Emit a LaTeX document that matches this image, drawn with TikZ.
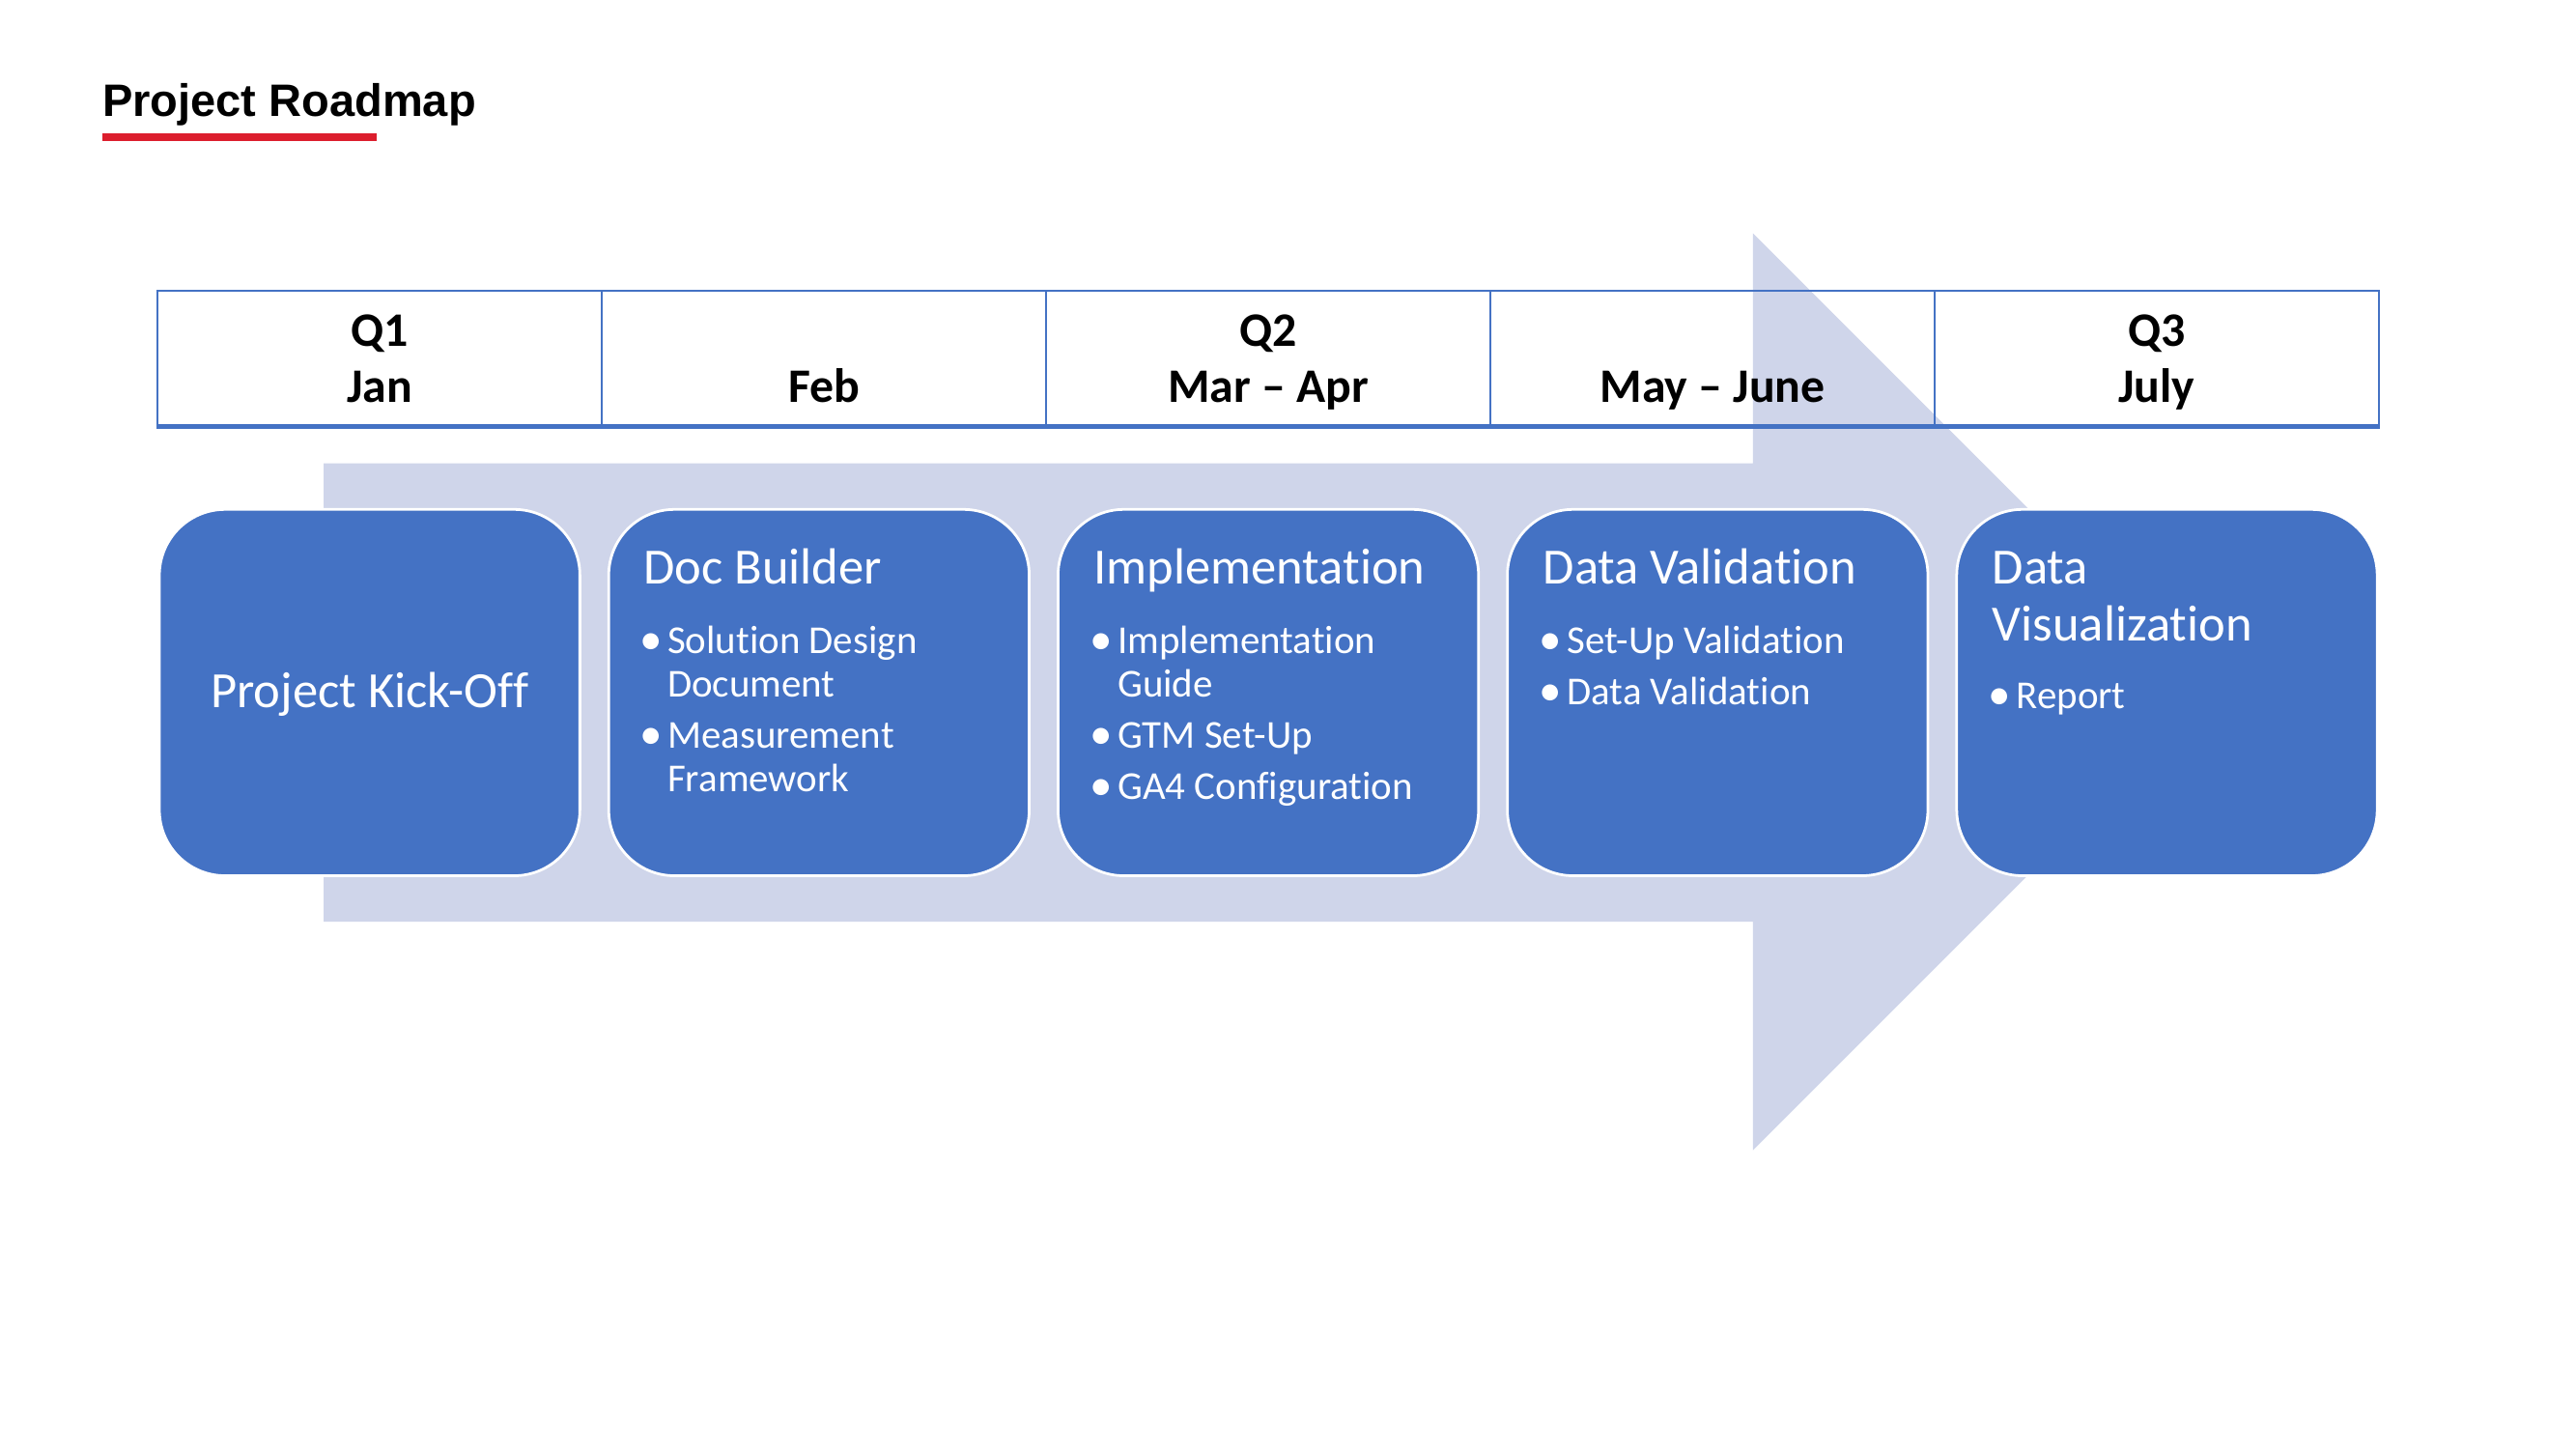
\documentclass[tikz,border=0pt]{standalone}
\usepackage{fontspec}
\setmainfont{Carlito}[Ligatures=NoCommon]
\newfontfamily\titlefont{Liberation Sans}
\definecolor{boxblue}{HTML}{4472C4}
\definecolor{arrowlav}{HTML}{CFD5EA}
\definecolor{titlered}{HTML}{DC1E2D}
\newcommand\bul{\llap{\raisebox{-0.3pt}{\scalebox{1.15}{\textbullet}}\hspace{2pt}}}

\begin{document}
\begin{tikzpicture}[x=0.0216cm,y=-0.0216cm,
  cell/.style={draw=boxblue,line width=0.8pt,minimum width=5.841cm,minimum height=1.771cm,inner sep=0pt},
  month/.style={anchor=base,inner sep=0pt,font=\bfseries\fontsize{18}{21}\selectfont},
  stage/.style={rectangle,rounded corners=0.864cm,fill=boxblue,draw=white,line width=1pt,minimum width=5.53cm,minimum height=4.817cm},
  head/.style={anchor=base west,inner sep=0pt,text=white,font=\fontsize{19}{22}\selectfont},
  item/.style={anchor=base west,inner sep=0pt,text=white,font=\fontsize{14.8}{17}\selectfont}]

  \fill[white] (0,0) rectangle (1568,882);
  \useasboundingbox (0,0) rectangle (1568,882);

  % title
  \node[anchor=base west,inner sep=0pt,font=\titlefont\bfseries\fontsize{17}{20}\selectfont] (title) at (62,70.6) {Project Roadmap};
  \fill[titlered] (62.3,81.2) rectangle (229.3,85.9);

  % big arrow
  \fill[arrowlav] (197,282) -- (1067,282) -- (1067,142) -- (1346,421) -- (1067,700) -- (1067,561) -- (197,561) -- cycle;

  % timeline table
  \node[cell] (c1) at (231.2,218) {};
  \node[cell] (c2) at (501.6,218) {};
  \node[cell] (c3) at (772,218) {};
  \node[cell] (c4) at (1042.4,218) {};
  \node[cell] (c5) at (1312.8,218) {};
  \draw[boxblue,line width=1.8pt] (c1.south west) -- (c5.south east);

  \node[month] (q1) at (231.2,210.5) {Q1};
  \node[month] (m1) at (231.2,245) {Jan};
  \node[month] (m2) at (501.6,245) {Feb};
  \node[month] (q2) at (772,210.5) {Q2};
  \node[month] (m3) at (772,245) {Mar -- Apr};
  \node[month] (m4) at (1042.4,245) {May -- June};
  \node[month] (q3) at (1312.8,210.5) {Q3};
  \node[month] (m5) at (1312.8,245) {July};

  % stages
  \node[stage] (b1) at (225,421.5) {};
  \node[stage] (b2) at (498.5,421.5) {};
  \node[stage] (b3) at (772,421.5) {};
  \node[stage] (b4) at (1045.5,421.5) {};
  \node[stage] (b5) at (1319,421.5) {};

  \node[anchor=base,inner sep=0pt,text=white,font=\fontsize{19}{22}\selectfont] (kick) at (225,430.4) {Project Kick-Off};

  \node[head] (h2) at (391.5,355.5) {Doc Builder};
  \node[item] (i21) at (406,398) {\bul Solution Design};
  \node[item] (i22) at (406,424.3) {Document};
  \node[item] (i23) at (406,455.3) {\bul Measurement};
  \node[item] (i24) at (406,481.6) {Framework};

  \node[head] (h3) at (665.5,355.5) {Implementation};
  \node[item] (i31) at (680,398) {\bul Implementation};
  \node[item] (i32) at (680,424.3) {Guide};
  \node[item] (i33) at (680,455.5) {\bul GTM Set-Up};
  \node[item] (i34) at (680,486.7) {\bul GA4 Configuration};

  \node[head] (h4) at (939,355.5) {Data Validation};
  \node[item] (i41) at (953.5,398) {\bul Set-Up Validation};
  \node[item] (i42) at (953.5,429) {\bul Data Validation};

  \node[head] (h5) at (1212.5,355.5) {Data};
  \node[head] (h5b) at (1212.5,390.2) {Visualization};
  \node[item] (i51) at (1227,431.2) {\bul Report};
\end{tikzpicture}
\end{document}
